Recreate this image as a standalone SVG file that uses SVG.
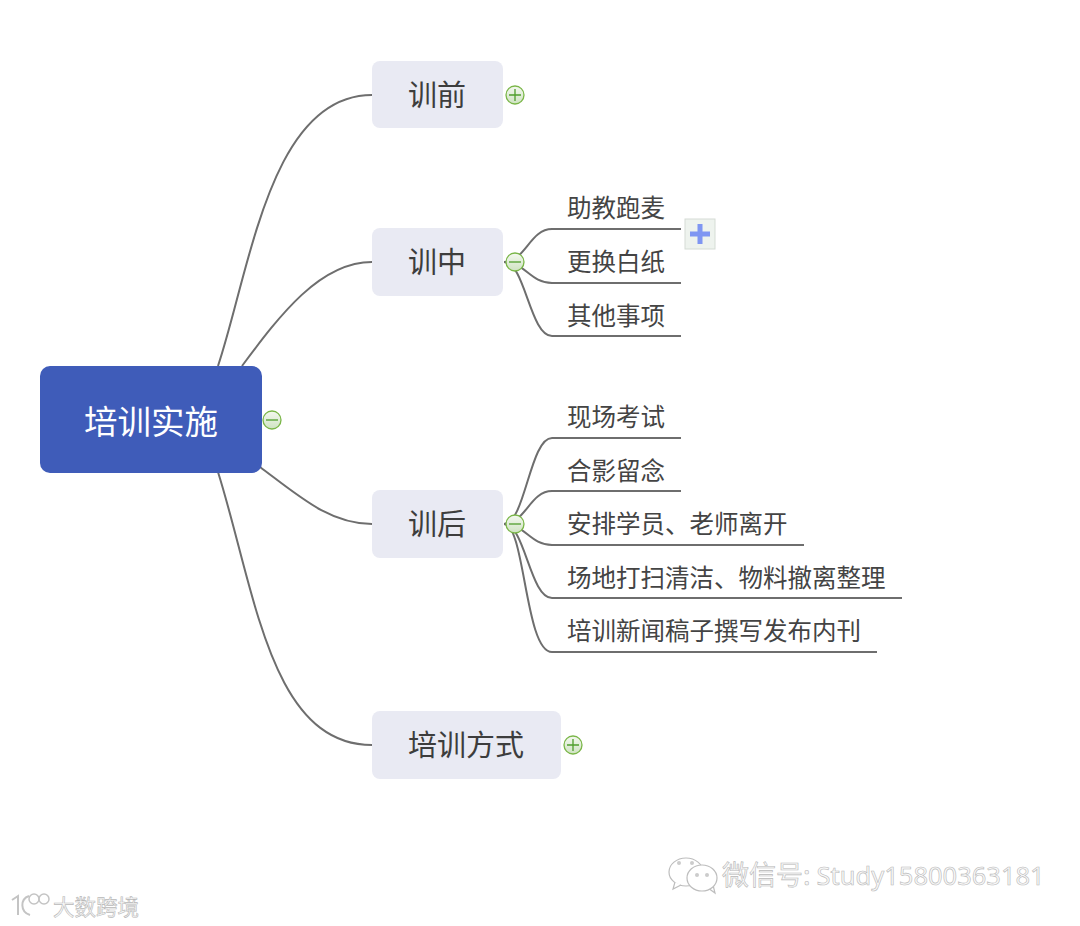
<svg xmlns="http://www.w3.org/2000/svg" width="1080" height="926" viewBox="0 0 1080 926">
<style>
text{font-family:"Noto Sans CJK SC","Liberation Sans",sans-serif}
.c{fill:none;stroke:#6e6e6e;stroke-width:2}
.n{fill:#e9eaf3}
.t1{font-size:29px;fill:#3d3d3d;text-anchor:middle}
.t2{font-size:24.5px;fill:#444}
.wm{fill:#f8f8f8;stroke:#b8b8b8;stroke-width:.6}
.wi{fill:#fff;stroke:#bdbdbd;stroke-width:1.2}
.tg{fill:url(#g);stroke:#7ab648;stroke-width:1.3}
.ts{stroke:#4f9e2c;stroke-width:1.3;fill:none}
</style>
<defs>
<linearGradient id="g" x1="0" y1="0" x2="0" y2="1"><stop offset="0" stop-color="#f4f8f0"/><stop offset="1" stop-color="#cfe3c2"/></linearGradient>
<g id="minus"><circle r="9" class="tg"/><path class="ts" d="M-6 0H6"/></g>
<g id="plus"><circle r="9" class="tg"/><path class="ts" d="M-6 0H6M0-6V6"/></g>
</defs>
<rect width="1080" height="926" fill="#fff"/>
<g id="connectors">
<path class="c" d="M218 366C250 270 270 95 372 95"/>
<path class="c" d="M242 366C280 315 320 262 372 262"/>
<path class="c" d="M260 467C300 497 330 524 372 524"/>
<path class="c" d="M218 472C255 590 270 745 372 745"/>
<path class="c" d="M504 262C525 262 530 229 552 229H681"/>
<path class="c" d="M504 262C525 262 530 283 552 283H681"/>
<path class="c" d="M504 262C525 262 530 336 552 336H681"/>
<path class="c" d="M504 524C525 524 530 438 552 438H681"/>
<path class="c" d="M504 524C525 524 530 491 552 491H681"/>
<path class="c" d="M504 524C525 524 530 545 552 545H804"/>
<path class="c" d="M504 524C525 524 530 598 552 598H902"/>
<path class="c" d="M504 524C525 524 525 652 552 652H877"/>
</g>
<g id="root"><rect x="40" y="366" width="222" height="107" rx="10" fill="#3f5cb9"/><text x="151" y="434" font-size="33.5" fill="#fff" text-anchor="middle">培训实施</text><use href="#minus" x="272" y="420"/></g>
<g id="n1"><rect class="n" x="372" y="61" width="131" height="67" rx="8"/><text class="t1" x="437" y="106">训前</text><use href="#plus" x="515" y="95"/></g>
<g id="n2"><rect class="n" x="372" y="228" width="131" height="68" rx="8"/><text class="t1" x="437" y="273">训中</text><use href="#minus" x="515" y="262"/></g>
<g id="n3"><rect class="n" x="372" y="490" width="131" height="68" rx="8"/><text class="t1" x="437" y="535">训后</text><use href="#minus" x="515" y="524"/></g>
<g id="n4"><rect class="n" x="372" y="711" width="189" height="68" rx="8"/><text class="t1" x="466" y="756">培训方式</text><use href="#plus" x="573" y="745"/></g>
<g id="l1"><text class="t2" x="567" y="217">助教跑麦</text></g>
<g id="l2"><text class="t2" x="567" y="271">更换白纸</text></g>
<g id="l3"><text class="t2" x="567" y="325">其他事项</text></g>
<g id="l4"><text class="t2" x="567" y="426">现场考试</text></g>
<g id="l5"><text class="t2" x="567" y="480">合影留念</text></g>
<g id="l6"><text class="t2" x="567" y="533">安排学员、老师离开</text></g>
<g id="l7"><text class="t2" x="567" y="587">场地打扫清洁、物料撤离整理</text></g>
<g id="l8"><text class="t2" x="567" y="640">培训新闻稿子撰写发布内刊</text></g>
<g id="expand"><rect x="685" y="219" width="30" height="30" fill="#eef3ee" stroke="#d5dcd5"/><path d="M700 224V244M690 234H710" stroke="#7f96f2" stroke-width="5"/></g>
<g id="wm1">
<ellipse class="wi" cx="686" cy="872" rx="17" ry="14"/><path class="wi" d="M675 882l-2 7 8-4"/>
<path class="wi" d="M708 888l7 5-2-8"/>
<ellipse class="wi" cx="702" cy="878" rx="15" ry="13"/>
<circle cx="679" cy="863" r="2" fill="#ccc"/><circle cx="692" cy="863" r="2" fill="#ccc"/><circle cx="697" cy="875" r="2" fill="#ccc"/><circle cx="707" cy="875" r="2" fill="#ccc"/>
<text class="wm" x="722" y="885" font-size="27">微信号: <tspan font-family="'Noto Sans',sans-serif" font-size="25.5">Study15800363181</tspan></text>
</g>
<g id="wm2">
<path d="M12 900L18 896V915M29 896C20 899 20 912 30 915" fill="none" stroke="#c4c4c4" stroke-width="2"/>
<circle cx="34" cy="899" r="5" fill="none" stroke="#c4c4c4" stroke-width="1.5"/><circle cx="44" cy="899" r="5" fill="none" stroke="#c4c4c4" stroke-width="1.5"/>
<text class="wm" x="53" y="915" font-size="21.5">大数跨境</text>
</g>
</svg>
